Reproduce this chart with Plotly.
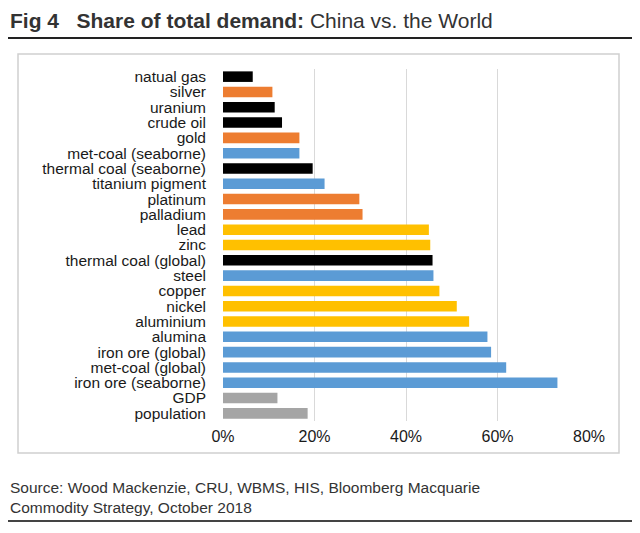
import plotly.graph_objects as go

categories = ["natual gas", "silver", "uranium", "crude oil", "gold",
              "met-coal (seaborne)", "thermal coal (seaborne)", "titanium pigment",
              "platinum", "palladium", "lead", "zinc", "thermal coal (global)",
              "steel", "copper", "nickel", "aluminium", "alumina",
              "iron ore (global)", "met-coal (global)", "iron ore (seaborne)",
              "GDP", "population"]
share = [0.065, 0.108, 0.113, 0.129, 0.167, 0.167, 0.196, 0.222,
         0.298, 0.305, 0.450, 0.453, 0.458, 0.460, 0.473, 0.511,
         0.538, 0.578, 0.586, 0.619, 0.731, 0.119, 0.185]
groups = ["energy", "precious", "energy", "energy", "precious",
          "bulk", "energy", "bulk", "precious", "precious",
          "base", "base", "energy", "bulk", "base", "base",
          "base", "bulk", "bulk", "bulk", "bulk", "macro", "macro"]
group_colors = {"energy": "#000000", "precious": "#ED7D31", "bulk": "#5B9BD5",
                "base": "#FFC000", "macro": "#A5A5A5"}
x_ticks = [0, 0.2, 0.4, 0.6, 0.8]
x_tick_labels = ["0%", "20%", "40%", "60%", "80%"]

# page body has an 8px margin; work in reference-pixel coordinates and offset
OFF = 8
W, H = 640 - OFF, 533 - OFF
L, R, T, B = 223 - OFF, 589 - OFF, 69 - OFF, 421 - OFF

def px(x):
    return (x - OFF - L) / (R - L)

def py(y):
    return (B - (y - OFF)) / (B - T)

fig = go.Figure(go.Bar(
    x=share, y=categories, orientation="h",
    marker=dict(color=[group_colors[g] for g in groups], line=dict(width=0)),
    hoverinfo="x+y",
))

fig.update_layout(
    width=W, height=H,
    margin=dict(l=L, r=W - R, t=T, b=H - B, autoexpand=False),
    paper_bgcolor="white", plot_bgcolor="white",
    bargap=0.31,
    showlegend=False,
    font=dict(family="Liberation Sans, Arial, sans-serif", color="#1a1a1a"),
)
fig.update_xaxes(
    range=[0, 0.8], tickvals=x_ticks, ticktext=x_tick_labels,
    showgrid=True, gridcolor="#d9d9d9", gridwidth=1,
    zeroline=False, showline=False,
    tickfont=dict(size=16, color="#1a1a1a"),
    ticklabelstandoff=4,
)
fig.update_yaxes(
    categoryorder="array", categoryarray=categories,
    autorange="reversed", tickmode="array", tickvals=categories,
    showgrid=False, zeroline=False, showline=False,
    tickfont=dict(size=15.5, color="#1a1a1a"),
    ticklabelstandoff=16,
)

shapes = [
    dict(type="rect", xref="paper", yref="paper",
         x0=px(18), x1=px(619), y0=py(453), y1=py(54),
         line=dict(color="#d0d0d0", width=1.5), fillcolor="rgba(0,0,0,0)", layer="below"),
    dict(type="line", xref="paper", yref="paper",
         x0=px(8), x1=px(632), y0=py(38), y1=py(38),
         line=dict(color="#222222", width=2)),
    dict(type="line", xref="paper", yref="paper",
         x0=px(8), x1=px(632), y0=py(521), y1=py(521),
         line=dict(color="#444444", width=2)),
]
fig.update_layout(shapes=shapes)

title_font = "Liberation Sans, Arial, sans-serif"
annotations = [
    dict(xref="paper", yref="paper", x=px(8), y=py(20), xanchor="left", yanchor="middle",
         showarrow=False,
         text="<b>Fig 4</b>   <b>Share of total demand:</b> China vs. the World",
         font=dict(family=title_font, size=21, color="#333333")),
    dict(xref="paper", yref="paper", x=px(8), y=py(497), xanchor="left", yanchor="middle",
         showarrow=False, align="left",
         text="Source: Wood Mackenzie, CRU, WBMS, HIS, Bloomberg Macquarie<br>Commodity Strategy, October 2018",
         font=dict(family=title_font, size=15.5, color="#333333")),
]
fig.update_layout(annotations=annotations)

fig.write_html("out.html")
